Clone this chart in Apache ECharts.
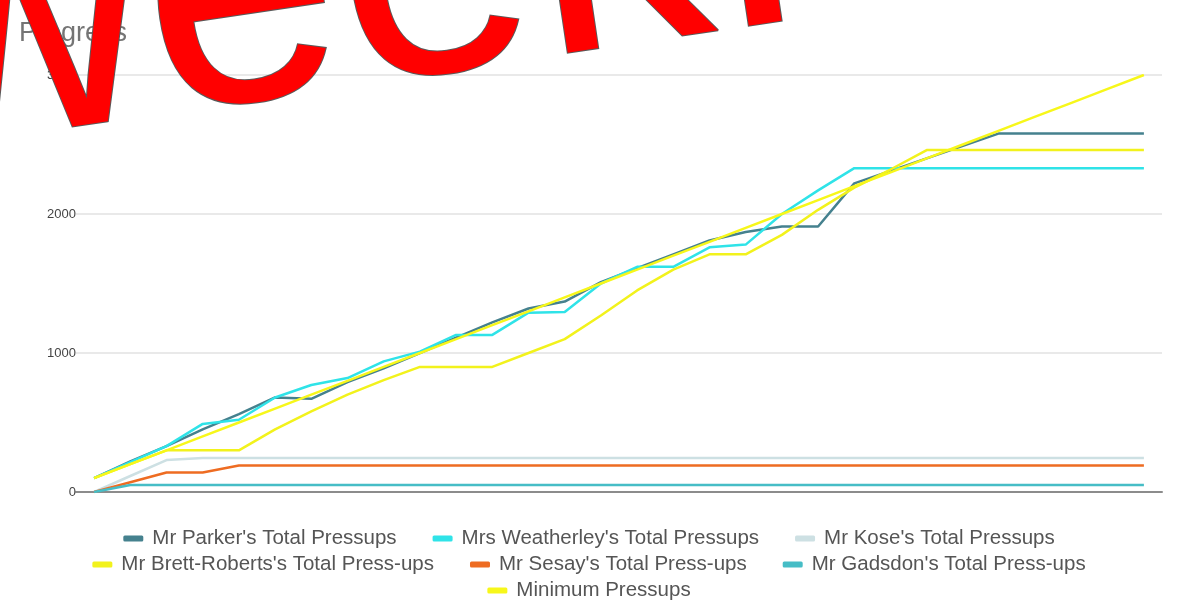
<!DOCTYPE html>
<html>
<head>
<meta charset="utf-8">
<script src="https://cdn.jsdelivr.net/npm/echarts@6/dist/echarts.min.js"></script>
<style>
  html, body { margin: 0; padding: 0; background: #ffffff; }
  #chart { width: 1178px; height: 606px; }
</style>
</head>
<body>
<div id="chart"></div>
<script>
const categories = ['1','2','3','4','5','6','7','8','9','10','11','12','13','14','15','16','17','18','19','20','21','22','23','24','25','26','27','28','29','30'];
const yTicks = [0, 1000, 2000, 3000];

const parker = [100,220,330,450,560,680,670,790,890,1000,1110,1220,1320,1370,1510,1610,1710,1810,1870,1910,1910,2220,2310,2400,2490,2580,2580,2580,2580,2580];
const weatherley = [100,215,330,490,520,680,770,820,940,1010,1130,1130,1290,1295,1500,1620,1620,1760,1780,2000,2170,2330,2330,2330,2330,2330,2330,2330,2330,2330];
const kose = [0,115,230,245,245,245,245,245,245,245,245,245,245,245,245,245,245,245,245,245,245,245,245,245,245,245,245,245,245,245];
const brettRoberts = [100,200,300,300,300,450,580,700,805,900,900,900,1000,1100,1270,1450,1600,1710,1710,1850,2030,2190,2320,2460,2460,2460,2460,2460,2460,2460];
const sesay = [0,70,140,140,190,190,190,190,190,190,190,190,190,190,190,190,190,190,190,190,190,190,190,190,190,190,190,190,190,190];
const gadsdon = [0,50,50,50,50,50,50,50,50,50,50,50,50,50,50,50,50,50,50,50,50,50,50,50,50,50,50,50,50,50];
const minimum = [100,200,300,400,500,600,700,800,900,1000,1100,1200,1300,1400,1500,1600,1700,1800,1900,2000,2100,2200,2300,2400,2500,2600,2700,2800,2900,3000];

const seriesNames = [
  "Mr Parker's Total Pressups",
  "Mrs Weatherley's Total Pressups",
  "Mr Kose's Total Pressups",
  "Mr Brett-Roberts's Total Press-ups",
  "Mr Sesay's Total Press-ups",
  "Mr Gadsdon's Total Press-ups",
  "Minimum Pressups"
];
const seriesData = [parker, weatherley, kose, brettRoberts, sesay, gadsdon, minimum];
const seriesColors = ['#45818e', '#2fe3e8', '#cde0e3', '#f2f21c', '#ee6c22', '#46bdc6', '#f7f71a'];

const chart = echarts.init(document.getElementById('chart'), null, { renderer: 'canvas' });

const FONT = '"Liberation Sans", Arial, sans-serif';
const legendCommon = {
  left: 'center',
  orient: 'horizontal',
  icon: 'roundRect',
  itemWidth: 20,
  itemHeight: 6,
  itemGap: 36,
  textStyle: { fontFamily: FONT, fontSize: 20.5, color: '#555555', padding: [0, 0, 0, 4] }
};

const option = {
  backgroundColor: '#ffffff',
  animation: false,
  title: {
    text: 'Progress',
    left: 14,
    top: 15,
    textStyle: { fontFamily: FONT, fontSize: 27, fontWeight: 'normal', color: '#757575' }
  },
  legend: [
    Object.assign({}, legendCommon, { top: 523, data: seriesNames.slice(0, 3) }),
    Object.assign({}, legendCommon, { top: 549, data: seriesNames.slice(3, 6) }),
    Object.assign({}, legendCommon, { top: 575, data: seriesNames.slice(6) })
  ],
  grid: { left: 76, right: 16, top: 75, bottom: 114, containLabel: false },
  xAxis: {
    type: 'category',
    data: categories,
    boundaryGap: true,
    axisLine: { show: true, lineStyle: { color: '#8c8c8c', width: 2 } },
    axisTick: { show: false },
    axisLabel: { show: false },
    splitLine: { show: false }
  },
  yAxis: {
    type: 'value',
    min: yTicks[0],
    max: yTicks[yTicks.length - 1],
    interval: 1000,
    axisLine: { show: false },
    axisTick: { show: false },
    axisLabel: { fontFamily: FONT, fontSize: 13, color: '#444444', margin: 0, formatter: (v) => String(v) },
    splitLine: { show: true, lineStyle: { color: '#e2e2e2', width: 1.5 } }
  },
  series: seriesNames.map((name, i) => ({
    name: name,
    type: 'line',
    data: seriesData[i],
    symbol: 'none',
    smooth: false,
    color: seriesColors[i],
    lineStyle: { width: 2.5, color: seriesColors[i] }
  })),
  graphic: [
    {
      type: 'text',
      x: -87,
      y: 175,
      rotation: 0.148,
      z: 100,
      zlevel: 1,
      silent: true,
      style: {
        text: 'week!',
        x: 0,
        y: -121,
        font: '350px "Liberation Sans", Arial, sans-serif',
        textAlign: 'left',
        textVerticalAlign: 'middle',
        fill: '#ff0000',
        stroke: '#5a5a5a',
        lineWidth: 2
      }
    }
  ]
};

chart.setOption(option);
</script>
</body>
</html>
